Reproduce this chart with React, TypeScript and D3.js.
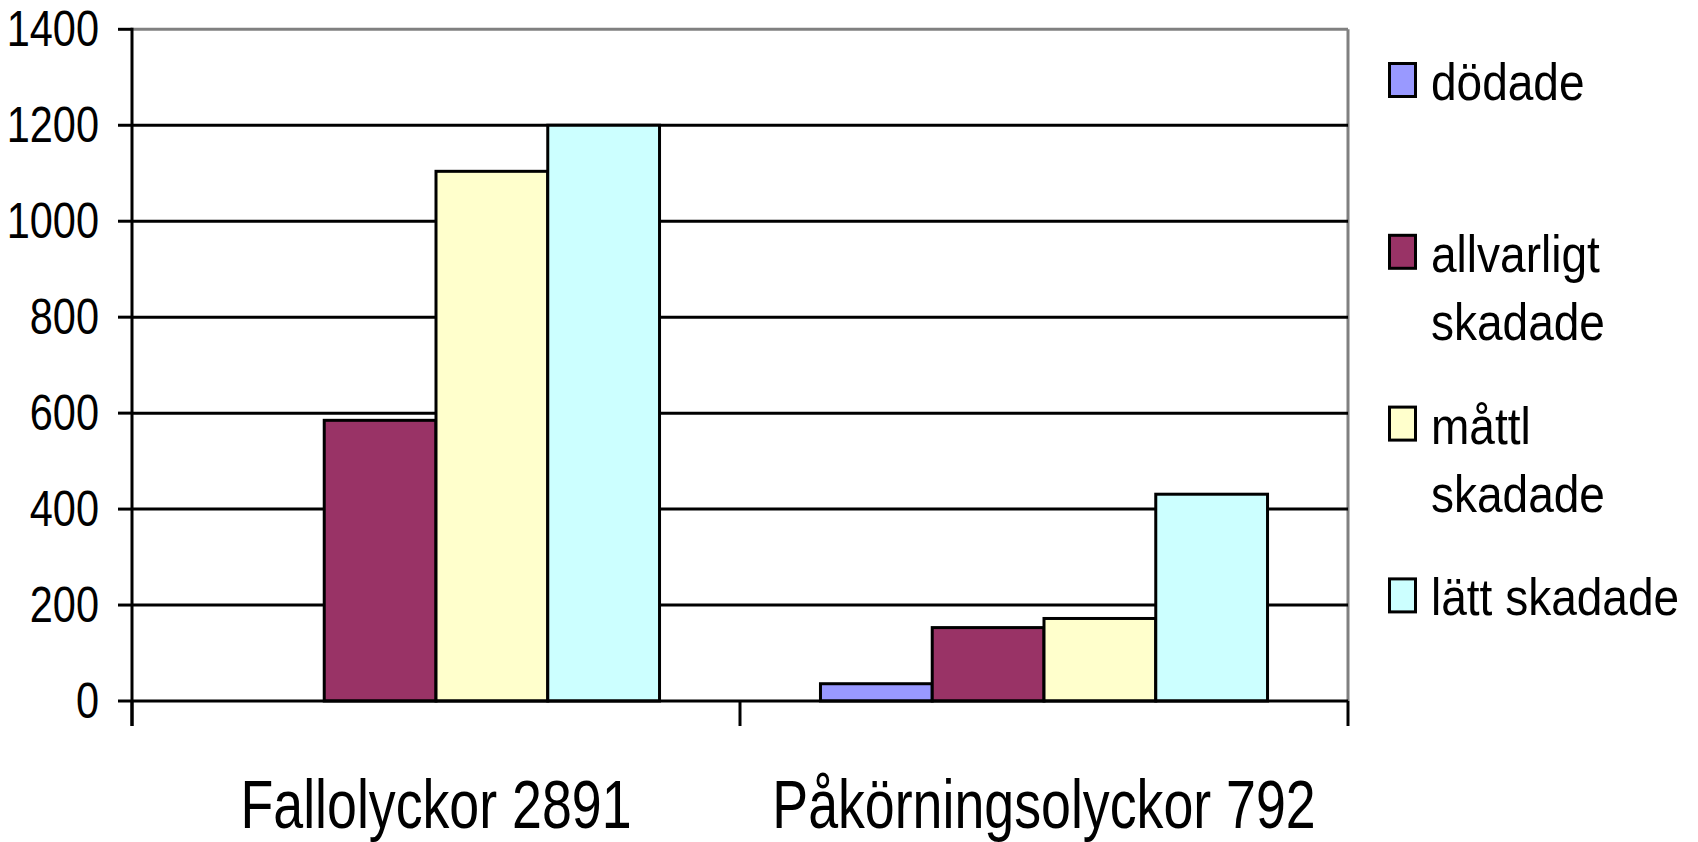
import React from "react";
import * as d3 from "d3";

const categories = ["Fallolyckor 2891", "Påkörningsolyckor 792"];
const seriesNames = ["dödade", "allvarligt skadade", "måttl skadade", "lätt skadade"];
const legendLines = [["dödade"], ["allvarligt", "skadade"], ["måttl", "skadade"], ["lätt skadade"]];
const seriesColors = ["#9999FF", "#993366", "#FFFFCC", "#CCFFFF"];
const dodade = [0, 36];
const allvarligt = [585, 153];
const mattl = [1104, 172];
const latt = [1200, 431];
const yTicks = [0, 200, 400, 600, 800, 1000, 1200, 1400];

const W = 1698;
const H = 842;
const left = 132;
const right = 1348;
const top = 29.3;
const bottom = 701;
const FONT = "'Liberation Sans', Arial, Helvetica, sans-serif";

export default function App() {
  const seriesValues = [dodade, allvarligt, mattl, latt];
  const y = d3.scaleLinear().domain([0, 1400]).range([bottom, top]);
  const x0 = d3.scaleBand<string>().domain(categories).range([left, right]).paddingInner(0).paddingOuter(0);
  const x1 = d3
    .scaleBand<string>()
    .domain(seriesNames)
    .range([0, x0.bandwidth()])
    .paddingInner(0)
    .paddingOuter(0.72);

  const catBounds = [left, ...categories.map((c) => (x0(c) as number) + x0.bandwidth())];
  const legendStart = 80;
  const legendStep = 171.8;

  return (
    <svg
      width={W}
      height={H}
      style={{ position: "absolute", left: 0, top: 0, background: "#fff" }}
    >
      <rect x={0} y={0} width={W} height={H} fill="#fff" />
      {/* plot border (top/right) */}
      <line x1={left} x2={right} y1={top} y2={top} stroke="#808080" strokeWidth={3} />
      <line x1={right} x2={right} y1={top} y2={bottom} stroke="#808080" strokeWidth={3} />
      {/* gridlines */}
      {yTicks
        .filter((t) => t > 0 && t < 1400)
        .map((t) => (
          <line key={"g" + t} x1={left} x2={right} y1={y(t)} y2={y(t)} stroke="#000" strokeWidth={3} />
        ))}
      {/* bars */}
      {categories.map((c, ci) => (
        <g key={c} transform={`translate(${x0(c)},0)`}>
          {seriesNames.map((s, si) => {
            const v = seriesValues[si][ci];
            if (v <= 0) return null;
            return (
              <rect
                key={s}
                x={x1(s)}
                y={y(v)}
                width={x1.bandwidth()}
                height={bottom - y(v)}
                fill={seriesColors[si]}
                stroke="#000"
                strokeWidth={3}
              />
            );
          })}
        </g>
      ))}
      {/* y axis */}
      <line x1={left} x2={left} y1={top - 1.5} y2={bottom + 25} stroke="#000" strokeWidth={3} />
      {yTicks.map((t) => (
        <g key={"yt" + t}>
          <line x1={left - 14} x2={left} y1={y(t)} y2={y(t)} stroke="#000" strokeWidth={3} />
          <text
            transform={`translate(99,${y(t) + 17}) scale(0.83,1)`}
            textAnchor="end"
            fontFamily={FONT}
            fontSize={50}
            fill="#000"
          >
            {t}
          </text>
        </g>
      ))}
      {/* x axis */}
      <line x1={left} x2={right} y1={bottom} y2={bottom} stroke="#000" strokeWidth={3} />
      {catBounds.map((b, i) => (
        <line key={"xt" + i} x1={b} x2={b} y1={bottom} y2={bottom + 25} stroke="#000" strokeWidth={3} />
      ))}
      {categories.map((c) => (
        <text
          key={"xl" + c}
          transform={`translate(${(x0(c) as number) + x0.bandwidth() / 2},828) scale(0.79,1)`}
          textAnchor="middle"
          fontFamily={FONT}
          fontSize={68}
          fill="#000"
        >
          {c}
        </text>
      ))}
      {/* legend */}
      {legendLines.map((lines, i) => {
        const cy = legendStart + i * legendStep;
        return (
          <g key={"lg" + i}>
            <rect
              x={1389.5}
              y={cy - 16.5}
              width={26}
              height={33}
              fill={seriesColors[i]}
              stroke="#000"
              strokeWidth={3}
            />
            {lines.map((ln, li) => (
              <text
                key={li}
                transform={`translate(1431,${cy + 20 + li * 68}) scale(0.885,1)`}
                fontFamily={FONT}
                fontSize={52}
                fill="#000"
              >
                {ln}
              </text>
            ))}
          </g>
        );
      })}
    </svg>
  );
}
